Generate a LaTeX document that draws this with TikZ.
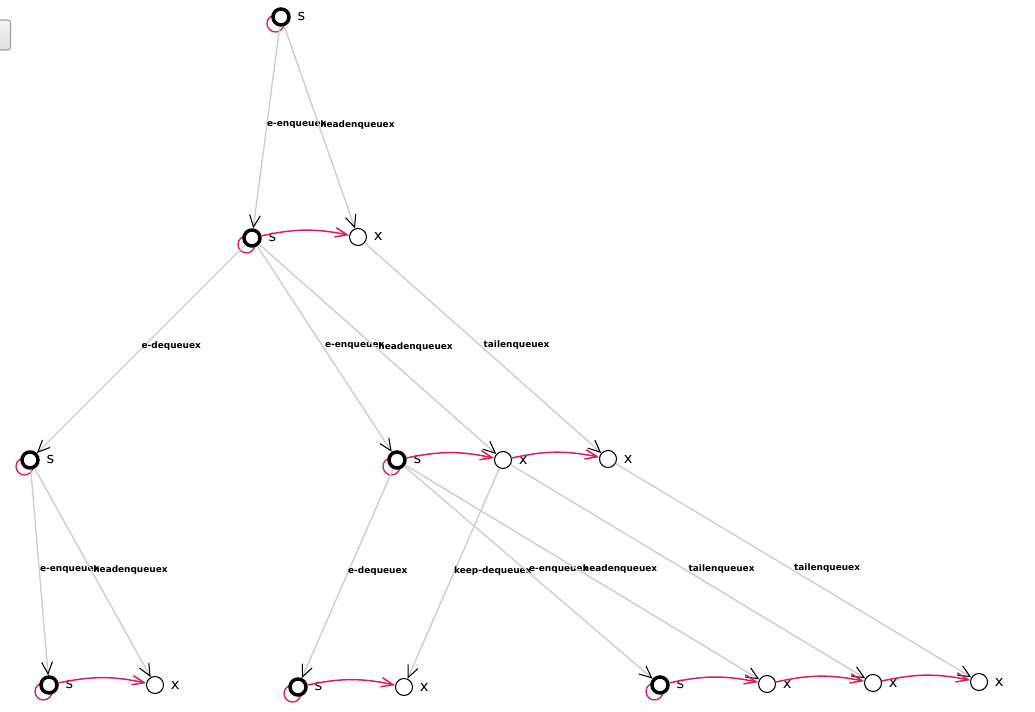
\documentclass[tikz,border=0pt]{standalone}
\usepackage{fontspec}
\setmainfont{DejaVu Sans}
\usetikzlibrary{arrows.meta,backgrounds}
\definecolor{crim}{RGB}{222,28,84}
\definecolor{edgegray}{RGB}{204,204,204}
\begin{document}
\begin{tikzpicture}[x=0.75pt,y=0.75pt,
  lab/.style={font=\fontsize{11}{13}\selectfont,inner sep=0pt,label distance=5pt},
  snode/.style={circle,draw=black,line width=2.6pt,fill=white,minimum size=12pt,inner sep=0pt,label={[lab]east:s}},
  xnode/.style={circle,draw=black,line width=0.8pt,fill=white,minimum size=12.75pt,inner sep=0pt,label={[lab]east:x}},
  tedge/.style={draw=edgegray,line width=1pt,-{Straight Barb[length=9pt,width=8pt,black,line width=0.8pt]}},
  nedge/.style={draw=crim,line width=1.1pt,-{Straight Barb[length=9pt,width=7pt]},bend left=12},
  selfloop/.style={draw=crim,line width=1pt},
  elabel/.style={font=\bfseries\fontsize{6.7}{7}\selectfont,anchor=west,inner sep=0pt,yshift=2pt,midway}
]
\useasboundingbox (0,0) rectangle (1035,712);
\draw[top color=gray!8,bottom color=gray!25,draw=gray!75,rounded corners=2pt,line width=0.8pt] (-10,662) rectangle (10.5,692);

\node[snode] (S0) at (281,695) {};
\node[snode] (S1) at (252,474) {};
\node[xnode] (X1) at (358,475) {};
\node[snode] (S2) at (30,252) {};
\node[snode] (S3) at (397,252) {};
\node[xnode] (X2) at (503,252) {};
\node[xnode] (X3) at (608,253) {};
\node[snode] (S4) at (49,27) {};
\node[xnode] (X4) at (155,27) {};
\node[snode] (S5) at (298,25) {};
\node[xnode] (X5) at (404,25) {};
\node[snode] (S6) at (660,27) {};
\node[xnode] (X6) at (767,28) {};
\node[xnode] (X7) at (873,29) {};
\node[xnode] (X8) at (979,30) {};

\begin{scope}[on background layer]
  \foreach \n in {S0,S1,S2,S3,S4,S5,S6}
    \draw[selfloop] ([shift={(-5.5,-6.5)}]\n.center) circle[radius=8.5];
\end{scope}

\draw[tedge] (S0) -- node[elabel]{e-enqueuex} (S1);
\draw[tedge] (S0) -- node[elabel]{headenqueuex} (X1);
\draw[tedge] (S1) -- node[elabel]{e-dequeuex} (S2);
\draw[tedge] (S1) -- node[elabel]{e-enqueuex} (S3);
\draw[tedge] (S1) -- node[elabel]{headenqueuex} (X2);
\draw[tedge] (X1) -- node[elabel]{tailenqueuex} (X3);
\draw[tedge] (S2) -- node[elabel]{e-enqueuex} (S4);
\draw[tedge] (S2) -- node[elabel]{headenqueuex} (X4);
\draw[tedge] (S3) -- node[elabel]{e-dequeuex} (S5);
\draw[tedge] (X2) -- node[elabel]{keep-dequeuex} (X5);
\draw[tedge] (S3) -- node[elabel]{e-enqueuex} (S6);
\draw[tedge] (S3) -- node[elabel]{headenqueuex} (X6);
\draw[tedge] (X2) -- node[elabel]{tailenqueuex} (X7);
\draw[tedge] (X3) -- node[elabel]{tailenqueuex} (X8);

\draw[nedge] (S1) to (X1);
\draw[nedge] (S3) to (X2);
\draw[nedge] (X2) to (X3);
\draw[nedge] (S4) to (X4);
\draw[nedge] (S5) to (X5);
\draw[nedge] (S6) to (X6);
\draw[nedge] (X6) to (X7);
\draw[nedge] (X7) to (X8);
\end{tikzpicture}
\end{document}
